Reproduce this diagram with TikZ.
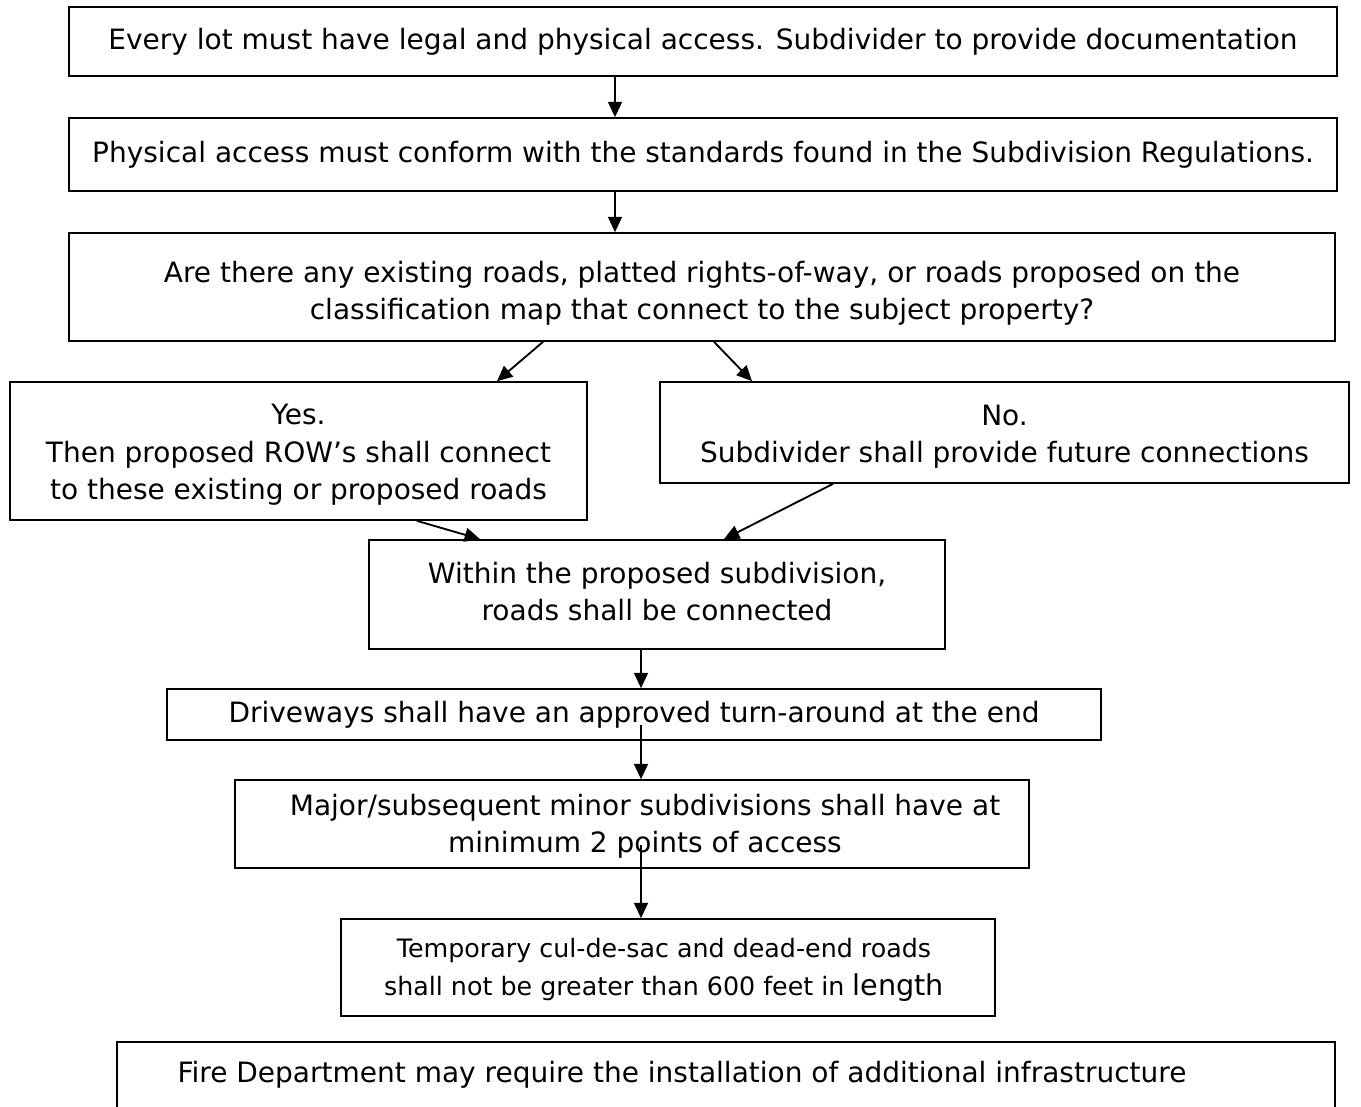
\documentclass[tikz,border=0pt]{standalone}
\usepackage{fontspec}
\setmainfont{DejaVu Sans}
\usetikzlibrary{arrows.meta}
\begin{document}
\begin{tikzpicture}[x=0.75pt,y=-0.75pt,
  box/.style={draw, line width=1.3pt, rectangle, align=center, inner sep=0pt,
    font=\fontsize{21}{28}\selectfont},
  lbl/.style={align=center, inner sep=0pt, font=\fontsize{21}{28}\selectfont},
  arr/.style={line width=1.4pt, -{Triangle[length=11.5pt,width=10.5pt]}}]
\useasboundingbox (0,0) rectangle (1361,1107);
\clip (0,0) rectangle (1361,1107);
\node[box, minimum width=951pt, minimum height=51.75pt] (n1) at (703,41.5)
  {Every lot must have legal and physical access. Subdivider to provide documentation};
\node[box, minimum width=951pt, minimum height=54.75pt] (n2) at (703,154.5)
  {Physical access must conform with the standards found in the Subdivision Regulations.};
\node[box, minimum width=949.5pt, minimum height=81pt] (n3) at (702,287) {};
\node[lbl] (n3t) at (702,293)
  {Are there any existing roads, platted rights-of-way, or roads proposed on the\\classification map that connect to the subject property?};
\node[box, minimum width=432.75pt, minimum height=103.5pt] (yes) at (298.5,451) {};
\node[lbl] (yest) at (298.5,455)
  {Yes.\\Then proposed ROW's shall connect\\to these existing or proposed roads};
\node[box, minimum width=516.75pt, minimum height=75.75pt] (no) at (1004.5,432.5) {};
\node[lbl] (not) at (1004.5,436.5)
  {No.\\Subdivider shall provide future connections};
\node[box, minimum width=432pt, minimum height=81.75pt] (n6) at (657,594.5) {};
\node[lbl] (n6t) at (657,591.5)
  {Within the proposed subdivision,\\roads shall be connected};
\node[box, minimum width=700.5pt, minimum height=38.25pt] (n7) at (634,714.5)
  {Driveways shall have an approved turn-around at the end};
\node[box, minimum width=595.5pt, minimum height=66pt] (n8) at (632,824) {};
\node[lbl] (n8t) at (645,826)
  {Major/subsequent minor subdivisions shall have at\\minimum 2 points of access};
\node[box, minimum width=490.5pt, minimum height=72.75pt] (n9) at (668,967.5) {};
\node[lbl, font=\fontsize{19}{28}\selectfont] (n9t) at (664,970)
  {Temporary cul-de-sac and dead-end roads\\shall not be greater than 600 feet in {\fontsize{21.5}{28}\selectfont length}};
\draw[line width=1.3pt] (117,1130) -- (117,1042) -- (1335,1042) -- (1335,1130);
\node[lbl] (n10) at (682,1075)
  {Fire Department may require the installation of additional infrastructure};
\coordinate (c615) at (615,0);
\coordinate (c641) at (641,0);
\coordinate (s3y) at (543,0);
\coordinate (eyes) at (497,0);
\coordinate (s3n) at (714,0);
\coordinate (eno) at (752,0);
\coordinate (syes) at (417,0);
\coordinate (e6a) at (480,0);
\coordinate (sno) at (833,0);
\coordinate (e6b) at (724,0);
\coordinate (s7) at (641,725);
\coordinate (s8) at (641,845);
\draw[arr] (n1.south -| c615) -- (n2.north -| c615);
\draw[arr] (n2.south -| c615) -- (n3.north -| c615);
\draw[arr] (n3.south -| s3y) -- (yes.north -| eyes);
\draw[arr] (n3.south -| s3n) -- (no.north -| eno);
\draw[arr] (yes.south -| syes) -- (n6.north -| e6a);
\draw[arr] (no.south -| sno) -- (n6.north -| e6b);
\draw[arr] (n6.south -| c641) -- (n7.north -| c641);
\draw[arr] (s7) -- (n8.north -| c641);
\draw[arr] (s8) -- (n9.north -| c641);
\end{tikzpicture}
\end{document}
